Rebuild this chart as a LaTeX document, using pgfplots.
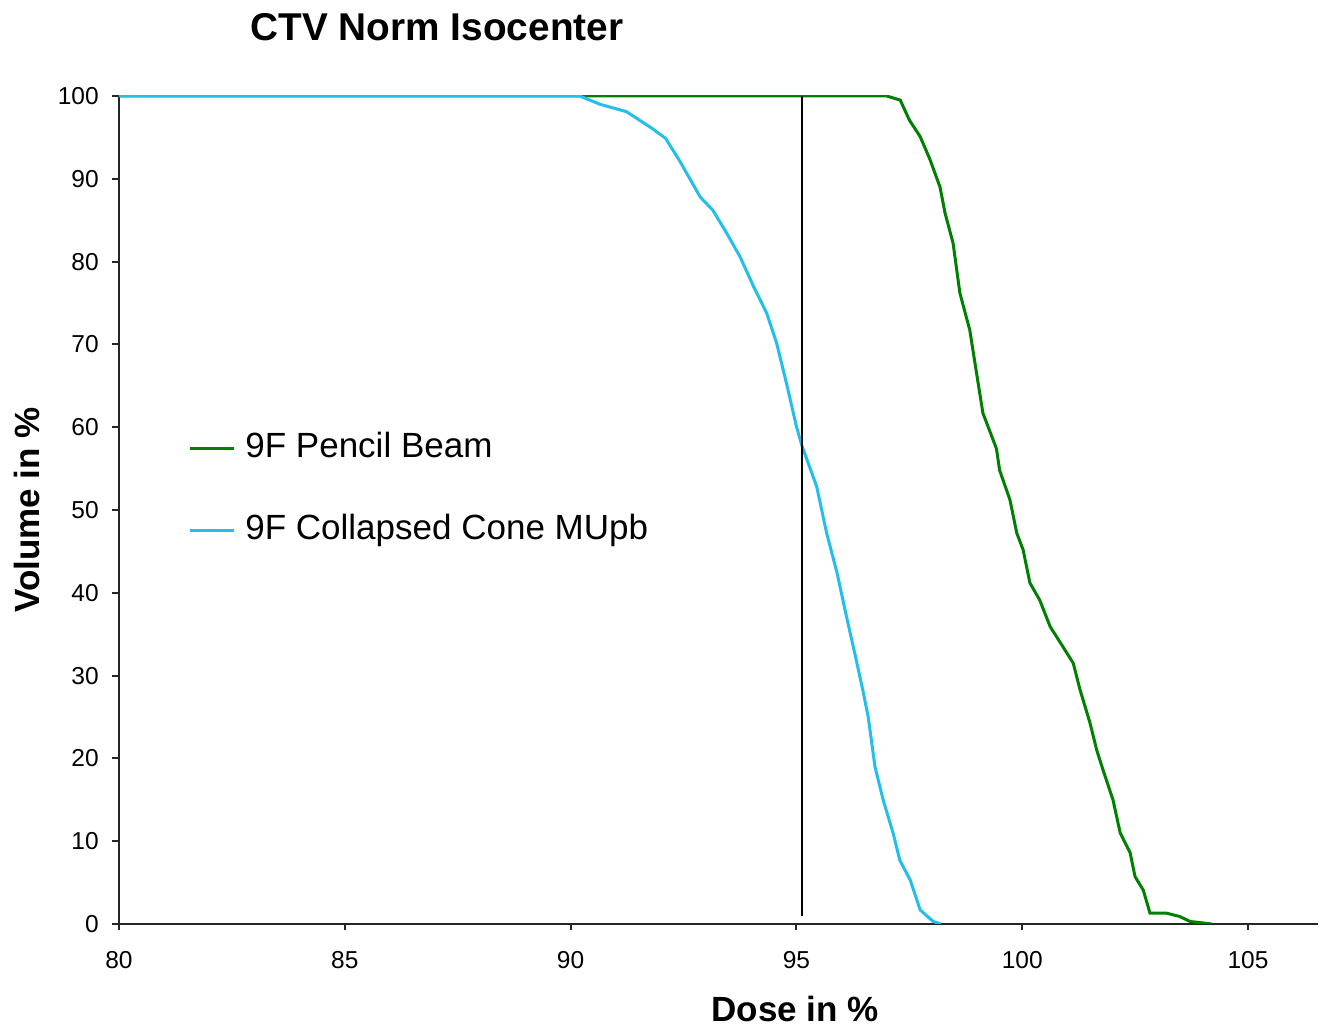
\documentclass[border=0pt]{standalone}
\usepackage{fontspec}
\setmainfont{Liberation Sans}
\usepackage{pgfplots}
\pgfplotsset{compat=1.18}
\definecolor{pbgreen}{RGB}{0,128,0}
\definecolor{cccyan}{RGB}{35,190,235}
\begin{document}
\begin{tikzpicture}
\begin{axis}[
  scale only axis,
  width=479.6pt, height=331.2pt,
  xmin=80, xmax=106.55, ymin=0, ymax=100,
  axis x line*=bottom, axis y line*=left,
  axis line style={-, line width=0.8pt, black!85},
  xtick={80,85,...,105}, ytick={0,10,...,100},
  tick align=outside, major tick length=2.6pt,
  tick style={line width=0.8pt, black!85},
  /pgf/number format/assume math mode=true,
  ticklabel style={font=\fontsize{9.8pt}{11pt}\selectfont},
  xticklabel style={yshift=-5pt},
  yticklabel style={xshift=-2pt},
  legend style={draw=none, fill=none, at={(rel axis cs:0.0575,0.595)}, anchor=north west,
    inner sep=0pt, row sep=19.8pt,
    nodes={inner sep=0pt, text height=10.2pt, text depth=2.8pt, font=\fontsize{14pt}{16pt}\selectfont}},
  legend cell align=left,
  legend image code/.code={\draw[#1] (0pt,0pt) -- (17.6pt,0pt); \path (21.6pt,0pt);},
]
\addplot[pbgreen, line width=1.2pt] coordinates {
(80,100) (97.0,100) (97.3,99.5) (97.5,97.1) (97.74,95.1) (97.96,92.3) (98.18,89) (98.29,85.9)
(98.47,82.2) (98.62,76.2) (98.84,71.7) (98.99,66.5) (99.13,61.7) (99.43,57.4) (99.5,54.8)
(99.73,51.2) (99.88,47.2) (100.02,45.2) (100.17,41.2) (100.39,39.1) (100.62,35.9) (100.9,33.5)
(101.13,31.5) (101.28,28.3) (101.5,24.3) (101.65,21) (101.79,18.6) (102.01,15) (102.17,11)
(102.39,8.6) (102.5,5.7) (102.68,4.1) (102.83,1.3) (103.2,1.3) (103.49,0.9) (103.72,0.3) (104.2,0)
};
\addlegendentry{9F Pencil Beam}
\addplot[cccyan, line width=1.2pt] coordinates {
(80,100) (90.2,100) (90.65,99) (91.24,98.1) (91.8,96.1) (92.1,94.9) (92.4,92.3) (92.87,87.8)
(93.15,86.2) (93.46,83.4) (93.75,80.6) (94.05,77) (94.34,73.8) (94.56,70.2) (94.78,65.3)
(95.0,60.1) (95.12,57.8) (95.45,52.8) (95.67,47.2) (95.9,42.4) (96.11,37.1) (96.3,32.5)
(96.48,28) (96.59,25) (96.74,19) (96.92,15) (97.14,11) (97.29,7.7) (97.52,5.3) (97.74,1.7)
(98.03,0.3) (98.2,0)
};
\addlegendentry{9F Collapsed Cone MUpb}
\addplot[black, line width=0.8pt, forget plot] coordinates {(95.12,1) (95.12,100)};
\end{axis}
\node[font=\bfseries\fontsize{15.5pt}{18pt}\selectfont] at (127.2pt,358.8pt) {CTV Norm Isocenter};
\node[font=\bfseries\fontsize{14pt}{16pt}\selectfont] at (270.4pt,-34.2pt) {Dose in \%};
\node[font=\bfseries\fontsize{14pt}{16pt}\selectfont, rotate=90] at (-36.8pt,165.6pt) {Volume in \%};
\pgfresetboundingbox
\useasboundingbox (-47.6pt,-41.6pt) rectangle (480.4pt,369.6pt);
\end{tikzpicture}
\end{document}
